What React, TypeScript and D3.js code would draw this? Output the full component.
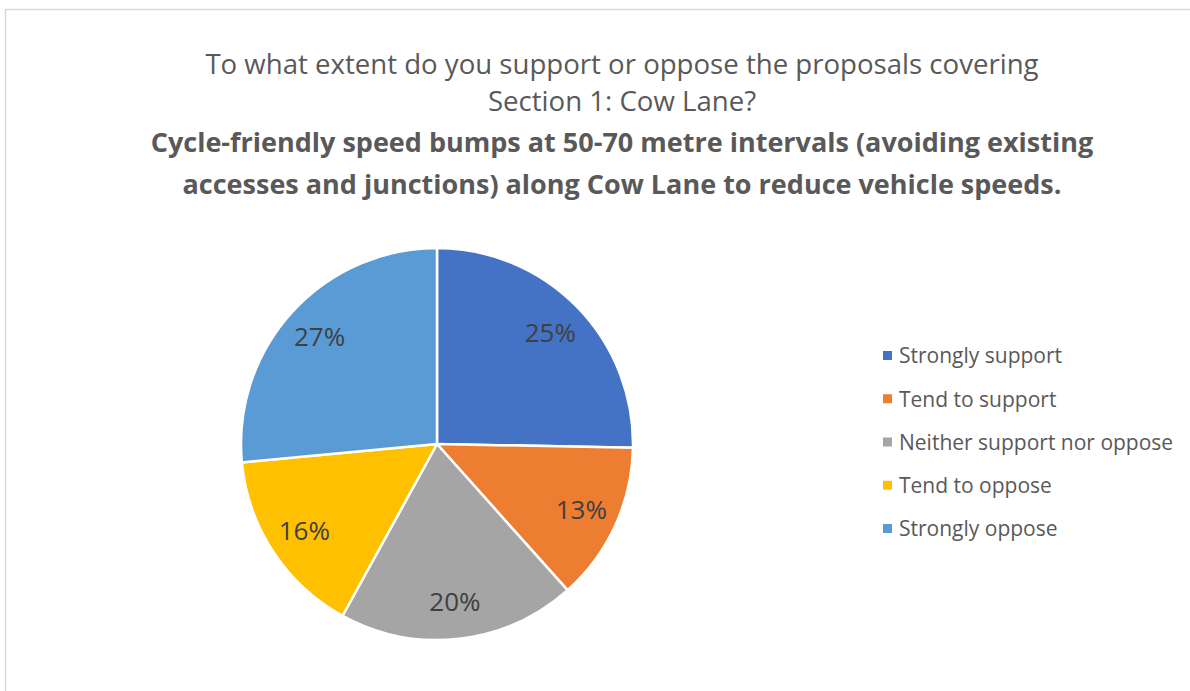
import React, { useEffect } from "react";
import * as d3 from "d3";

const categories = [
  "Strongly support",
  "Tend to support",
  "Neither support nor oppose",
  "Tend to oppose",
  "Strongly oppose",
];
const values = [25.3, 13.1, 19.6, 15.5, 26.5];
const colors = ["#4472C4", "#ED7D31", "#A5A5A5", "#FFC000", "#5B9BD5"];
const titleLines = [
  "To what extent do you support or oppose the proposals covering",
  "Section 1: Cow Lane?",
];
const subtitleLines = [
  "Cycle-friendly speed bumps at 50-70 metre intervals (avoiding existing",
  "accesses and junctions) along Cow Lane to reduce vehicle speeds.",
];

const W = 1190;
const H = 691;
const FONT = "'Open Sans', 'Noto Sans', sans-serif";

export default function App() {
  useEffect(() => {
    document.body.style.margin = "0";
  }, []);

  const cx = 437;
  const cy = 444;
  const r = 196;
  const pie = d3.pie<number>().sort(null).value((d) => d);
  const arcs = pie(values);
  const arc = d3.arc<d3.PieArcDatum<number>>().innerRadius(0).outerRadius(r);
  const labelArc = d3
    .arc<d3.PieArcDatum<number>>()
    .innerRadius(r * 0.81)
    .outerRadius(r * 0.81);

  const legendY = d3
    .scalePoint<string>()
    .domain(categories)
    .range([356, 529]);

  return (
    <svg width={W} height={H} style={{ display: "block" }} fontFamily={FONT}>
      <rect x={0} y={0} width={W} height={H} fill="#fff" />
      <rect
        x={5.5}
        y={9.5}
        width={W + 20}
        height={H + 20}
        fill="#fff"
        stroke="#d9d9d9"
        strokeWidth={1.5}
      />
      {titleLines.map((t, i) => (
        <text
          key={"t" + i}
          x={622}
          y={74 + i * 37}
          textAnchor="middle"
          fontSize={27.6}
          fill="#595959"
        >
          {t}
        </text>
      ))}
      {subtitleLines.map((t, i) => (
        <text
          key={"s" + i}
          x={622}
          y={152 + i * 42}
          textAnchor="middle"
          fontSize={27}
          fontWeight={700}
          fill="#595959"
        >
          {t}
        </text>
      ))}
      <g transform={`translate(${cx},${cy})`}>
        {arcs.map((a, i) => (
          <path
            key={"p" + i}
            d={arc(a) || ""}
            fill={colors[i]}
            stroke="#fff"
            strokeWidth={2.5}
            strokeLinejoin="round"
          />
        ))}
        {arcs.map((a, i) => {
          const [x, y] = labelArc.centroid(a);
          return (
            <text
              key={"l" + i}
              x={x}
              y={y}
              dy="0.35em"
              textAnchor="middle"
              fontSize={26}
              fill="#404040"
            >
              {Math.round(values[i])}%
            </text>
          );
        })}
      </g>
      {categories.map((c, i) => {
        const y = legendY(c) as number;
        return (
          <g key={"g" + i}>
            <rect x={883} y={y - 5} width={9} height={9} fill={colors[i]} />
            <text x={899} y={y} dy="0.35em" fontSize={21} fill="#595959">
              {c}
            </text>
          </g>
        );
      })}
    </svg>
  );
}
